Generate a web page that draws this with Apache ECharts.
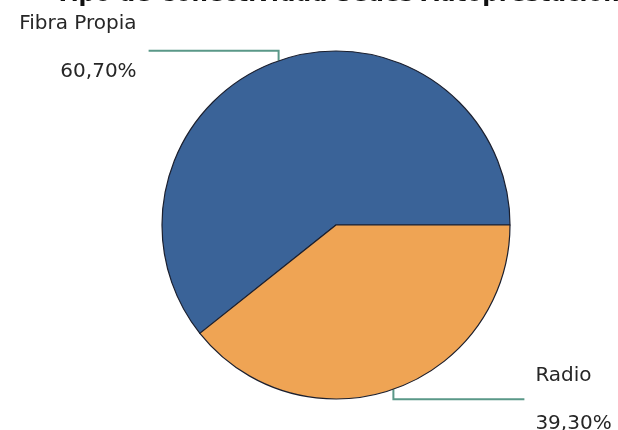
<!DOCTYPE html>
<html>
<head>
<meta charset="utf-8">
<script src="https://cdn.jsdelivr.net/npm/echarts@6/dist/echarts.min.js"></script>
<style>html,body{margin:0;padding:0;background:#fff;}#c{width:618px;height:430px;}</style>
</head>
<body>
<div id="c"></div>
<script>
const titleText = 'Tipo de Conectividad Sedes Autoprestación';
const categories = ['Fibra Propia', 'Radio'];
const values = [60.7, 39.3];
const valueLabels = ['60,70%', '39,30%'];
const colors = ['#3a6398', '#efa454'];

const chart = echarts.init(document.getElementById('c'));
chart.setOption({
  animation: false,
  title: {
    text: titleText,
    left: 50,
    top: -21,
    textStyle: { fontFamily: 'DejaVu Sans', fontWeight: 'bold', fontSize: 23, color: '#111' }
  },
  series: [{
    type: 'pie',
    center: [336, 225],
    radius: 174,
    startAngle: 0,
    clockwise: false,
    data: categories.map((c, i) => ({ name: c, value: values[i], itemStyle: { color: colors[i] } })),
    itemStyle: { borderColor: '#1b1f2e', borderWidth: 1.2 },
    label: {
      show: true,
      formatter: p => '{n|' + p.name + '}\n{v|' + valueLabels[p.dataIndex] + '}',
      rich: {
        n: { fontFamily: 'DejaVu Sans', fontSize: 20, color: '#262626', lineHeight: 48, letterSpacing: 0.9 },
        v: { fontFamily: 'DejaVu Sans', fontSize: 20, color: '#262626', lineHeight: 48, letterSpacing: 3.5 }
      }
    },
    labelLine: { show: true, lineStyle: { color: '#5a9888', width: 2 } },
    labelLayout: function (params) {
      const p0 = params.labelLinePoints[0];
      if (params.dataIndex === 0) {
        const ly = p0[1] - 10;
        return {
          x: p0[0] - 142, y: ly - 3, align: 'right', verticalAlign: 'middle',
          labelLinePoints: [p0, [p0[0], ly], [p0[0] - 130, ly]]
        };
      } else {
        const ly = p0[1] + 10;
        return {
          x: p0[0] + 142, y: ly + 1, align: 'left', verticalAlign: 'middle',
          labelLinePoints: [p0, [p0[0], ly], [p0[0] + 131, ly]]
        };
      }
    }
  }]
});
</script>
</body>
</html>
